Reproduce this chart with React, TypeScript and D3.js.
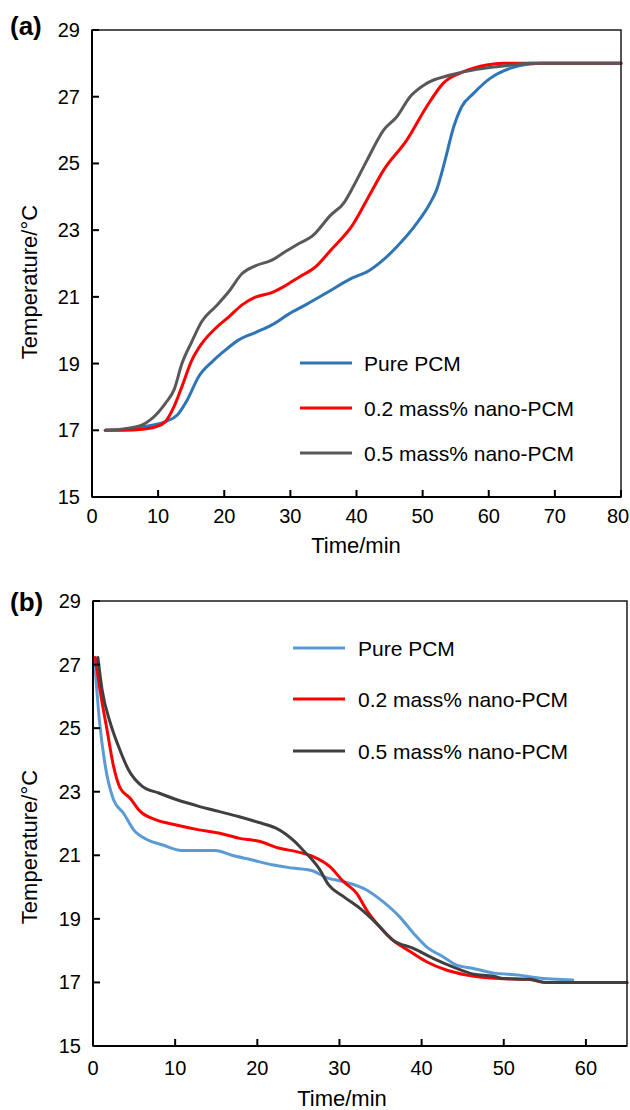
import React from 'react';
import * as d3 from 'd3';

// (a) heating curves, [time min, temperature °C]
const heatPure: [number, number][] = [
  [2, 17], [5, 17.02], [7.6, 17.1], [11.1, 17.26], [12.9, 17.46], [14.4, 17.91], [16.1, 18.6],
  [18.2, 19.06], [20.2, 19.41], [22.2, 19.71], [24.7, 19.93], [27.2, 20.16], [29.8, 20.49],
  [32.3, 20.76], [35.3, 21.1], [39.3, 21.56], [42, 21.8], [44, 22.1], [46.1, 22.5], [49.1, 23.2],
  [51.1, 23.8], [52.1, 24.2], [53.4, 25.1], [54.7, 26.1], [55.9, 26.7], [57.7, 27.1], [60.2, 27.55],
  [63.2, 27.85], [66.3, 27.98], [68, 28], [80, 28],
];
const heatNano02: [number, number][] = [
  [2, 17], [5, 17], [7.6, 17.03], [9.6, 17.1], [11.1, 17.26], [12.4, 17.71], [13.6, 18.31],
  [15.1, 19.1], [16.6, 19.6], [18.7, 20.06], [20.7, 20.4], [22.7, 20.76], [24.7, 20.99],
  [27.2, 21.13], [29.2, 21.33], [31.3, 21.59], [33.8, 21.9], [36.1, 22.4], [39.4, 23.15],
  [42.1, 24.1], [44.1, 24.8], [47.6, 25.7], [50.6, 26.7], [53.1, 27.4], [56.2, 27.75],
  [59.7, 27.95], [62.2, 28], [80, 28],
];
const heatNano05: [number, number][] = [
  [2, 17], [5, 17.05], [7.6, 17.16], [8.8, 17.31], [11.1, 17.81], [12.4, 18.21], [13.6, 19.0],
  [15.1, 19.66], [16.6, 20.26], [18.7, 20.71], [20.7, 21.16], [22.7, 21.7], [24.7, 21.93],
  [27.2, 22.1], [29.2, 22.35], [31.3, 22.6], [33.3, 22.82], [36.1, 23.45], [38.1, 23.82],
  [39.5, 24.3], [41.6, 25.1], [44.1, 26.0], [46.1, 26.4], [48.1, 27.0], [50.6, 27.4],
  [54.2, 27.65], [58.2, 27.82], [62.2, 27.92], [66.3, 28], [80, 28],
];

// (b) cooling curves
const coolPure: [number, number][] = [
  [0.2, 27.1], [0.77, 25.27], [1.5, 23.8], [2.5, 22.75], [3.7, 22.33], [4.95, 21.8], [6.6, 21.49],
  [8.4, 21.33], [10.8, 21.15], [14.9, 21.15], [16.9, 21.0], [19.3, 20.86], [21.8, 20.7],
  [24.2, 20.6], [26.6, 20.52], [28.4, 20.3], [30.5, 20.17], [33.3, 19.91], [35.3, 19.54],
  [37.3, 19.07], [39, 18.55], [40.6, 18.12], [42.6, 17.81], [44.2, 17.55], [46.3, 17.44],
  [48.7, 17.3], [51.9, 17.23], [54, 17.15], [58.4, 17.08],
];
const coolNano02: [number, number][] = [
  [0.28, 27.22], [0.9, 26.12], [1.7, 24.96], [2.5, 23.8], [3.3, 23.12], [4.5, 22.8], [5.75, 22.38],
  [7.6, 22.12], [10, 21.96], [12.9, 21.8], [15.3, 21.7], [17.7, 21.54], [20.2, 21.44],
  [22.6, 21.23], [25.0, 21.1], [26.8, 20.96], [28.8, 20.65], [30.5, 20.17], [32.1, 19.8],
  [33.3, 19.28], [34.9, 18.75], [36.5, 18.33], [38.6, 17.97], [40.6, 17.65], [43, 17.39],
  [45.5, 17.23], [49.5, 17.12], [53, 17.1], [55, 17.0], [65, 17.0],
];
const coolNano05: [number, number][] = [
  [0.6, 27.22], [1.1, 26.22], [2.1, 25.17], [3.1, 24.43], [4.3, 23.7], [6.0, 23.17], [8.0, 22.96],
  [10.4, 22.73], [12.9, 22.54], [15.3, 22.38], [17.7, 22.22], [20.2, 22.03], [22.2, 21.86],
  [23.4, 21.68], [24.6, 21.42], [25.6, 21.15], [26.6, 20.88], [27.6, 20.55], [28.6, 20.1],
  [30.5, 19.7], [32.5, 19.33], [34.5, 18.86], [36.5, 18.33], [39, 18.07], [41.4, 17.76],
  [43.8, 17.49], [46.3, 17.26], [48.7, 17.2], [50, 17.12], [53.2, 17.1], [55.2, 17.0], [65, 17.0],
];

const tempTicks = [15, 17, 19, 21, 23, 25, 27, 29];
const heatTimeTicks = [0, 10, 20, 30, 40, 50, 60, 70, 80];
const coolTimeTicks = [0, 10, 20, 30, 40, 50, 60];
const legendLabels = ['Pure PCM', '0.2 mass% nano-PCM', '0.5 mass% nano-PCM'];

const FONT = '"Liberation Sans", Arial, sans-serif';

type PanelProps = {
  label: string;
  left: number; right: number; top: number; bottom: number;
  xMax: number;
  xTicks: number[];
  series: [number, number][][];
  colors: string[];
  tickLabelDy: number;
  yTitleY: number;
  xTitle: [number, number];
  legend: { x0: number; x1: number; tx: number; ys: number[] };
  labelY: number;
};

function Panel(p: PanelProps) {
  const x = d3.scaleLinear().domain([0, p.xMax]).range([p.left, p.right]);
  const y = d3.scaleLinear().domain([15, 29]).range([p.bottom, p.top]);
  const line = d3.line<[number, number]>().x(d => x(d[0])).y(d => y(d[1])).curve(d3.curveMonotoneX);

  return (
    <g fontFamily={FONT}>
      <text x={10} y={p.labelY} fontSize={26} fontWeight="bold">{p.label}</text>
      {p.series.map((s, i) => (
        <path key={i} d={line(s) || ''} fill="none" stroke={p.colors[i]} strokeWidth={3}
          strokeLinejoin="round" strokeLinecap="round" />
      ))}
      <rect x={p.left} y={p.top} width={p.right - p.left} height={p.bottom - p.top}
        fill="none" stroke="#1a1a1a" strokeWidth={1.5} />
      <line x1={p.left} x2={p.left} y1={p.top} y2={p.bottom} stroke="#000" strokeWidth={2} />
      <line x1={p.left} x2={p.right} y1={p.bottom} y2={p.bottom} stroke="#000" strokeWidth={2} />
      {tempTicks.map(t => (
        <g key={'y' + t}>
          <line x1={p.left} x2={p.left + 7} y1={y(t)} y2={y(t)} stroke="#000" strokeWidth={2} />
          <text x={p.left - 12} y={y(t) + 7} fontSize={20} textAnchor="end">{t}</text>
        </g>
      ))}
      {p.xTicks.map(t => (
        <g key={'x' + t}>
          <line x1={x(t)} x2={x(t)} y1={p.bottom} y2={p.bottom - 7} stroke="#000" strokeWidth={2} />
          <text x={Math.min(x(t), 618)} y={p.bottom + p.tickLabelDy} fontSize={20} textAnchor="middle">{t}</text>
        </g>
      ))}
      <text transform={`translate(37,${p.yTitleY}) rotate(-90)`} fontSize={22} textAnchor="middle">
        Temperature/°C
      </text>
      <text x={p.xTitle[0]} y={p.xTitle[1]} fontSize={22} textAnchor="middle">Time/min</text>
      {legendLabels.map((l, i) => (
        <g key={l}>
          <line x1={p.legend.x0} x2={p.legend.x1} y1={p.legend.ys[i]} y2={p.legend.ys[i]}
            stroke={p.colors[i]} strokeWidth={3} />
          <text x={p.legend.tx} y={p.legend.ys[i] + 7.5} fontSize={21}>{l}</text>
        </g>
      ))}
    </g>
  );
}

export default function App() {
  return (
    <svg width={630} height={1110} style={{ position: 'absolute', left: 0, top: 0, background: '#fff' }}>
      <Panel
        label="(a)" left={92} right={621} top={30} bottom={497}
        xMax={80} xTicks={heatTimeTicks}
        series={[heatPure, heatNano02, heatNano05]}
        colors={['#2E75B6', '#FF0000', '#595959']}
        tickLabelDy={26} yTitleY={282} xTitle={[356, 553]}
        legend={{ x0: 300, x1: 352, tx: 364, ys: [363, 408, 453] }}
        labelY={34.5}
      />
      <Panel
        label="(b)" left={93} right={627} top={601} bottom={1046}
        xMax={65} xTicks={coolTimeTicks}
        series={[coolPure, coolNano02, coolNano05]}
        colors={['#5B9BD5', '#FF0000', '#404040']}
        tickLabelDy={29} yTitleY={847} xTitle={[342, 1106]}
        legend={{ x0: 293, x1: 345, tx: 358, ys: [648, 699, 751] }}
        labelY={611}
      />
    </svg>
  );
}
